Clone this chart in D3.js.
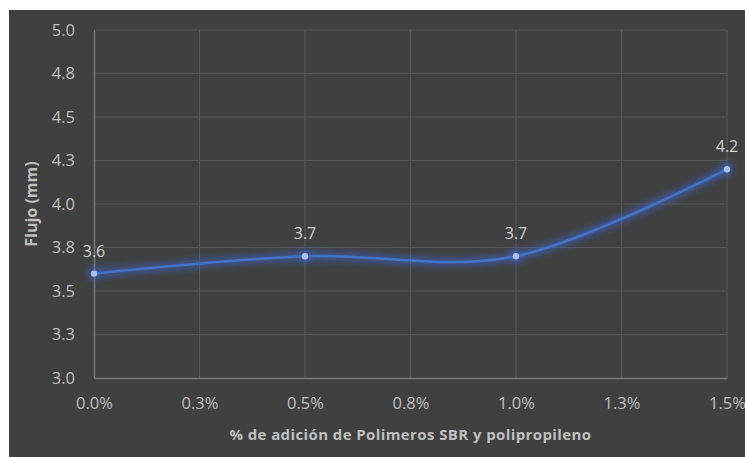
<!DOCTYPE html>
<html><head><meta charset="utf-8">
<script src="https://cdn.jsdelivr.net/npm/d3@7"></script>
<style>body{margin:0;background:#fff;}svg{display:block;}</style>
</head><body>
<svg id="c" width="745" height="457"></svg>
<script>
const xValues = [0.0, 0.5, 1.0, 1.5];
const flujo = [3.6, 3.7, 3.7, 4.2];
const dataLabels = ["3.6", "3.7", "3.7", "4.2"];
const xTicks = [0, 0.25, 0.5, 0.75, 1.0, 1.25, 1.5];
const xTickLabels = ["0.0%", "0.3%", "0.5%", "0.8%", "1.0%", "1.3%", "1.5%"];
const yTicks = [3.0, 3.25, 3.5, 3.75, 4.0, 4.25, 4.5, 4.75, 5.0];
const yTickLabels = ["3.0", "3.3", "3.5", "3.8", "4.0", "4.3", "4.5", "4.8", "5.0"];
const xTitle = "% de adición de Polimeros SBR y polipropileno";
const yTitle = "Flujo (mm)";

const svg = d3.select("#c");
const font = "'Open Sans', 'Noto Sans', sans-serif";
svg.append("rect").attr("x", 9).attr("y", 10).attr("width", 736).attr("height", 447).attr("fill", "#404040");

const m = {l: 94, r: 727, t: 30, b: 378};
const x = d3.scaleLinear().domain([0, 1.5]).range([m.l, m.r]);
const y = d3.scaleLinear().domain([3.0, 5.0]).range([m.b, m.t]);

const defs = svg.append("defs");
const f = defs.append("filter").attr("id", "glow").attr("x", "-20%").attr("y", "-50%").attr("width", "140%").attr("height", "200%");
f.append("feGaussianBlur").attr("stdDeviation", 3.5);

// gridlines
const grid = svg.append("g");
grid.selectAll("line.h").data(yTicks.slice(1)).join("line")
  .attr("x1", m.l).attr("x2", m.r).attr("y1", d => y(d)).attr("y2", d => y(d))
  .attr("stroke", "#595959").attr("stroke-width", 1);
grid.selectAll("line.v").data(xTicks.slice(1)).join("line")
  .attr("y1", m.t).attr("y2", m.b).attr("x1", d => x(d)).attr("x2", d => x(d))
  .attr("stroke", "#595959").attr("stroke-width", 1);

// axes
const xAxis = d3.axisBottom(x).tickValues(xTicks).tickFormat((d, i) => xTickLabels[i]).tickSize(0).tickPadding(19);
const gx = svg.append("g").attr("transform", `translate(0,${m.b})`).call(xAxis);
gx.select(".domain").attr("stroke", "#7a7a7a").attr("stroke-width", 1.5);
gx.selectAll("text").attr("fill", "#bfbfbf").attr("font-size", 16.5).attr("font-family", font);

const yAxis = d3.axisLeft(y).tickValues(yTicks).tickFormat((d, i) => yTickLabels[i]).tickSize(0).tickPadding(19);
const gy = svg.append("g").attr("transform", `translate(${m.l},0)`).call(yAxis);
gy.select(".domain").attr("stroke", "#7a7a7a").attr("stroke-width", 1.5);
gy.selectAll("text").attr("fill", "#bfbfbf").attr("font-size", 16.5).attr("font-family", font);

// line
const pts = xValues.map((d, i) => [x(d), y(flujo[i])]);
const line = d3.line().curve(d3.curveCardinal.tension(0));
svg.append("path").attr("d", line(pts)).attr("fill", "none")
  .attr("stroke", "#3a64c8").attr("stroke-width", 8).attr("stroke-opacity", 0.65).attr("filter", "url(#glow)");
svg.append("path").attr("d", line(pts)).attr("fill", "none")
  .attr("stroke", "#4472c4").attr("stroke-width", 2.5).attr("stroke-linecap", "round");

svg.selectAll("circle.g").data(pts).join("circle")
  .attr("cx", d => d[0]).attr("cy", d => d[1]).attr("r", 7)
  .attr("fill", "#3a64c8").attr("opacity", 0.55).attr("filter", "url(#glow)");
svg.selectAll("circle.p").data(pts).join("circle")
  .attr("cx", d => d[0]).attr("cy", d => d[1]).attr("r", 3.2)
  .attr("fill", "#a9bfe8");

// data labels
svg.selectAll("text.dl").data(pts).join("text")
  .attr("x", d => d[0]).attr("y", d => d[1] - 17)
  .attr("text-anchor", "middle").attr("fill", "#d0d0d0")
  .attr("font-size", 16).attr("font-family", font)
  .text((d, i) => dataLabels[i]);

// titles
svg.append("text").attr("x", (m.l + m.r) / 2).attr("y", 440).attr("text-anchor", "middle")
  .attr("fill", "#bfbfbf").attr("font-size", 15).attr("font-weight", "bold").attr("font-family", font)
  .attr("letter-spacing", 0.4)
  .text(xTitle);
svg.append("text").attr("transform", `translate(37,${(m.t + m.b) / 2}) rotate(-90)`).attr("text-anchor", "middle")
  .attr("fill", "#bfbfbf").attr("font-size", 16).attr("font-weight", "bold").attr("font-family", font)
  .text(yTitle);
</script>
</body></html>
